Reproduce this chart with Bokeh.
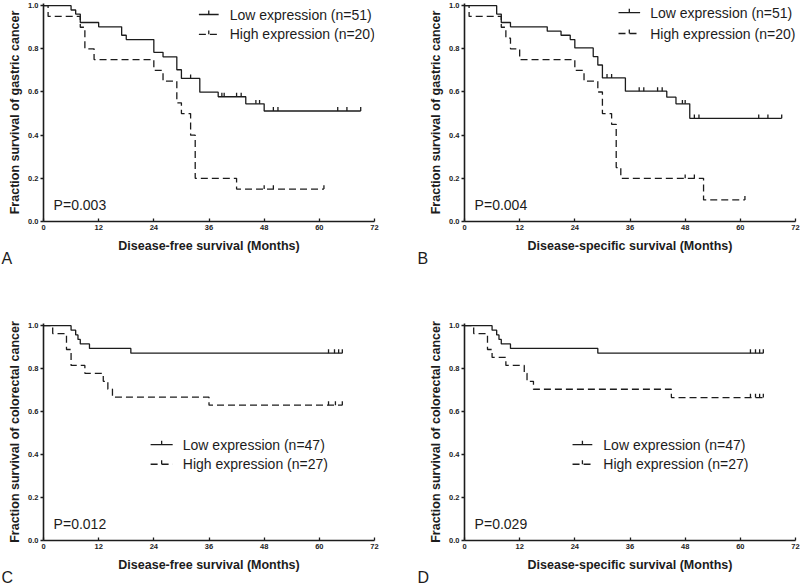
import numpy as np
from bokeh.plotting import figure
from bokeh.layouts import column, row
from bokeh.models import Range1d, FixedTicker, Label, NumeralTickFormatter, Title
from bokeh.embed import file_html
from bokeh.resources import INLINE

# ---------------- data ----------------
month_ticks = [0, 12, 24, 36, 48, 60, 72]
surv_ticks = [0.0, 0.2, 0.4, 0.6, 0.8, 1.0]

# Panel A: gastric cancer, disease-free survival
a_low_t = [6, 7, 8, 12, 17, 18, 24, 26, 29, 30, 34, 38, 44, 48]
a_low_s = [0.980, 0.961, 0.922, 0.902, 0.863, 0.843, 0.784, 0.763, 0.703, 0.663, 0.599, 0.578, 0.545, 0.512]
a_low_c = [32, 38.8, 39.3, 42, 43, 46.2, 47, 50, 51, 64, 66, 69]
a_high_t = [1, 8, 9, 11, 24, 26, 29, 30, 32, 33, 42]
a_high_s = [0.95, 0.90, 0.80, 0.75, 0.70, 0.65, 0.55, 0.50, 0.40, 0.20, 0.15]
a_high_c = [48, 50, 61]

# Panel B: gastric cancer, disease-specific survival
b_low_t = [7, 8, 10, 18, 21, 23, 24, 28, 29, 30, 35, 44, 46, 49]
b_low_s = [0.961, 0.922, 0.902, 0.882, 0.863, 0.843, 0.804, 0.764, 0.725, 0.665, 0.604, 0.576, 0.545, 0.478]
b_low_c = [31, 32, 38, 39, 42, 43, 47.4, 48, 50, 51, 64, 66, 69]
b_high_t = [1, 8, 9, 10, 12, 24, 26, 29, 30, 32, 33, 34, 52]
b_high_s = [0.95, 0.90, 0.85, 0.80, 0.75, 0.70, 0.65, 0.60, 0.50, 0.45, 0.25, 0.20, 0.10]
b_high_c = [48, 50, 61]

# Panel C: colorectal cancer, disease-free survival
c_low_t = [6, 7, 7.5, 8, 10, 19]
c_low_s = [0.979, 0.957, 0.936, 0.915, 0.894, 0.872]
c_low_c = [62, 63.3, 64.2, 65]
c_high_t = [2, 5, 6, 9, 13, 14, 15, 36]
c_high_s = [0.963, 0.889, 0.815, 0.778, 0.741, 0.704, 0.667, 0.630]
c_high_c = [62, 63.5, 65]

# Panel D: colorectal cancer, disease-specific survival
d_low_t = [6, 7, 7.5, 8, 10, 29]
d_low_s = [0.979, 0.957, 0.936, 0.915, 0.894, 0.872]
d_low_c = [62.2, 63.3, 64.2, 65]
d_high_t = [2, 5, 6, 9, 13, 13.6, 15, 45]
d_high_s = [0.963, 0.889, 0.852, 0.815, 0.778, 0.741, 0.704, 0.665]
d_high_c = [62.2, 63.3, 64.2, 65]

labels_gastric = ["Low expression (n=51)", "High expression (n=20)"]
labels_colorectal = ["Low expression (n=47)", "High expression (n=27)"]
p_values = ["P=0.003", "P=0.004", "P=0.012", "P=0.029"]
panel_letters = ["A", "B", "C", "D"]
x_titles = ["Disease-free survival (Months)", "Disease-specific survival (Months)",
            "Disease-free survival (Months)", "Disease-specific survival (Months)"]
y_titles = ["Fraction survival of gastric cancer", "Fraction survival of gastric cancer",
            "Fraction survival of colorectal cancer", "Fraction survival of colorectal cancer"]

# ---------------- styling ----------------
INK = "#1c1c1c"
LW = 1.3
DASH = "7 4"
TICK_H = 0.018
FONT = "Liberation Sans"


def km(p, t, s, cens, dash):
    t = np.asarray(t, float)
    s = np.asarray(s, float)
    cens = np.asarray(cens, float)
    x = np.r_[0.0, t, cens.max()]
    y = np.r_[1.0, s, s[-1]]
    p.step(x, y, mode="after", line_color=INK, line_width=LW, line_dash=dash)
    idx = np.searchsorted(t, cens, side="right")
    sv = np.r_[1.0, s][idx]
    p.segment(cens, sv, cens, sv + TICK_H, line_color=INK, line_width=LW)


def make_panel(width, height, mb, data, legend, legend_pos, pval, xt, yt, letter, letter_off):
    p = figure(width=width, height=height, output_backend="svg", toolbar_location=None,
               x_range=Range1d(0, 72), y_range=Range1d(0, 1.01),
               min_border_left=mb[0], min_border_right=mb[1],
               min_border_top=mb[2], min_border_bottom=mb[3])
    p.outline_line_color = None
    p.grid.visible = False
    p.background_fill_color = "white"
    p.border_fill_color = "white"

    for ax in (p.xaxis[0], p.yaxis[0]):
        ax.axis_line_color = INK
        ax.axis_line_width = 1.6
        ax.major_tick_line_color = INK
        ax.major_tick_line_width = 1.3
        ax.minor_tick_line_color = None
        ax.major_label_text_font = FONT
        ax.major_label_text_font_style = "bold"
        ax.major_label_text_font_size = "7.5px"
        ax.major_label_text_color = INK
        ax.axis_label_text_font = FONT
        ax.axis_label_text_font_style = "bold"
        ax.axis_label_text_font_size = "12.5px"
        ax.axis_label_text_color = INK

    p.xaxis.ticker = FixedTicker(ticks=month_ticks)
    p.xaxis.major_tick_in = 3
    p.xaxis.major_tick_out = 0
    p.xaxis.major_label_standoff = 3
    p.xaxis.axis_label_standoff = 6
    p.xaxis.axis_label = xt

    p.yaxis.ticker = FixedTicker(ticks=surv_ticks)
    p.yaxis.formatter = NumeralTickFormatter(format="0.0")
    p.yaxis.major_tick_in = 0
    p.yaxis.major_tick_out = 3
    p.yaxis.major_label_standoff = 2
    p.yaxis.axis_label_standoff = 3
    p.yaxis.axis_label = yt

    (lt, ls, lc), (ht, hs, hc) = data
    km(p, lt, ls, lc, "solid")
    km(p, ht, hs, hc, DASH)

    x0, x1, xtxt, y1, y2 = legend_pos
    xm = (x0 + x1) / 2
    for yy, dash, lab in ((y1, "solid", legend[0]), (y2, DASH, legend[1])):
        p.segment([x0], [yy], [x1], [yy], line_color=INK, line_width=LW, line_dash=dash)
        p.segment([xm], [yy], [xm], [yy + TICK_H], line_color=INK, line_width=LW)
        p.add_layout(Label(x=xtxt, y=yy, text=lab, text_font=FONT, text_font_size="14px",
                           text_color=INK, text_baseline="middle", text_align="left"))

    p.add_layout(Label(x=2.2, y=pval[1], text=pval[0], text_font=FONT, text_font_size="14px",
                       text_color=INK, text_baseline="middle", text_align="left"))

    # panel letter, placed under the x axis at the far left
    p.add_layout(Title(text=letter, align="left", offset=letter_off, standoff=-12,
                       vertical_align="top", text_font=FONT, text_font_size="16px",
                       text_font_style="normal", text_color=INK), "below")
    return p


pA = make_panel(412, 270, (43, 38, 3, 49),
                ((a_low_t, a_low_s, a_low_c), (a_high_t, a_high_s, a_high_c)),
                labels_gastric, (33.8, 38.1, 40.5, 0.959, 0.867),
                (p_values[0], 0.075), x_titles[0], y_titles[0], panel_letters[0], -42)
pB = make_panel(388, 270, (52, 5, 3, 49),
                ((b_low_t, b_low_s, b_low_c), (b_high_t, b_high_s, b_high_c)),
                labels_gastric, (33.5, 38.2, 40.4, 0.968, 0.871),
                (p_values[1], 0.075), x_titles[1], y_titles[1], panel_letters[1], -47)
pC = make_panel(412, 317, (43, 38, 53, 47),
                ((c_low_t, c_low_s, c_low_c), (c_high_t, c_high_s, c_high_c)),
                labels_colorectal, (23.3, 28.1, 30.3, 0.446, 0.355),
                (p_values[2], 0.077), x_titles[2], y_titles[2], panel_letters[2], -42)
pD = make_panel(388, 317, (52, 5, 53, 47),
                ((d_low_t, d_low_s, d_low_c), (d_high_t, d_high_s, d_high_c)),
                labels_colorectal, (23.5, 27.8, 30.2, 0.446, 0.355),
                (p_values[3], 0.077), x_titles[3], y_titles[3], panel_letters[3], -47)

layout = column(row(pA, pB, spacing=0), row(pC, pD, spacing=0), spacing=0)

open("out.html", "w").write(file_html(layout, INLINE))
